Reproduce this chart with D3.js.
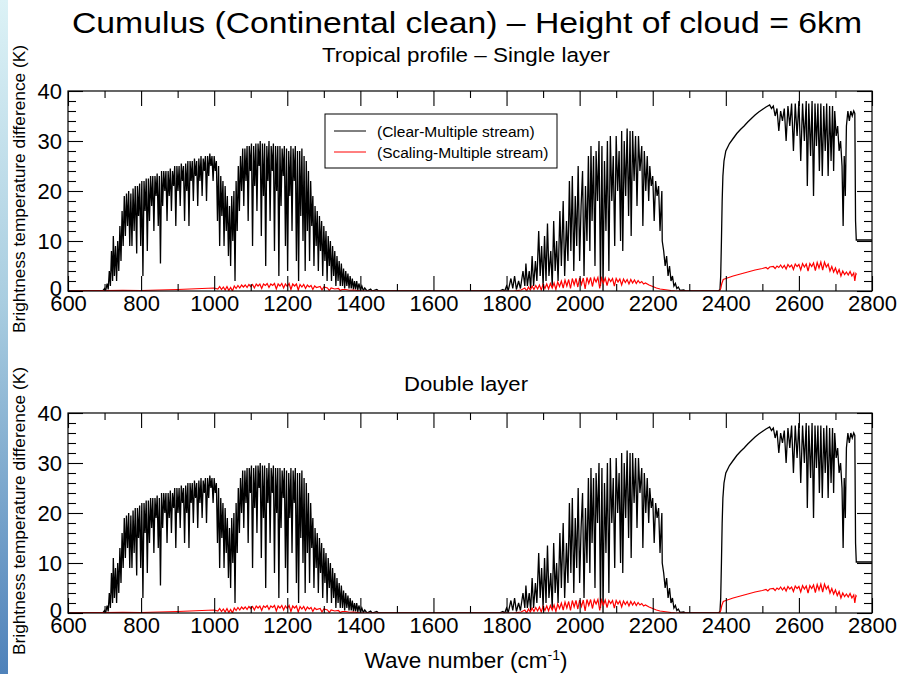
<!DOCTYPE html>
<html>
<head>
<meta charset="utf-8">
<script src="https://cdn.jsdelivr.net/npm/d3@7"></script>
<style>
  html, body { margin: 0; padding: 0; background: #fff; }
  text { font-family: "Liberation Sans", Arial, Helvetica, sans-serif; fill: #000; }
</style>
</head>
<body>
<script>
// Brightness temperature difference (K) against wave number (cm-1)
const clearSingle = [
  [600,0],[695,0],[700,0.5],[703,0],[707,1.5],[710,0.3],[713,4],[716,1],[719,8],[722,2],[724,11],[727,3],[730,9],
  [733,2],[736,10],[739,4],[742,13],[745,6],[748,16],[751,9],[754,19],[757,11],[760,19.5],[763,13],[766,20],
  [769,9],[772,19.5],[775,9],[778,20.5],[781,12],[784,21],[788,7.5],[790,21],[793,15],[796,21.5],[799,9],
  [802,22],[805,3],[808,22],[811,16],[814,22.5],[817,8],[820,22.5],[823,14],[826,23],[829,17],[832,23],
  [835,12],[838,23],[841,19],[844,23.5],[847,13],[850,23],[853,5.5],[856,24],[859,17],[862,24],[865,20],
  [868,24],[871,14],[874,24],[877,19],[880,24.5],[883,16],[886,24],[889,21],[892,25],[895,13],[898,25],
  [901,20],[904,25],[907,17],[910,25.5],[913,22],[916,25],[919,14],[922,25.5],[925,20],[928,26],[931,13],
  [934,26],[937,22],[940,26],[943,18],[946,26.5],[949,23],[952,26],[955,17],[958,26.5],[961,22],[964,27],
  [967,19],[970,26.5],[973,24],[976,27],[979,18],[982,27],[985,23],[988,27.5],[991,25],[994,27],[997,22],
  [1000,27],[1003,24],[1006,26],[1009,14],[1012,25],[1015,9],[1018,23],[1021,15],[1024,22],[1027,9],
  [1030,21],[1033,12],[1036,19],[1039,7],[1042,17],[1045,5],[1048,19],[1051,10],[1054,20],[1057,2],
  [1060,22],[1063,12],[1066,25],[1069,16],[1072,27],[1075,20],[1078,28.5],[1081,17],[1084,28.5],[1087,22],
  [1090,29],[1093,14],[1096,29],[1099,24],[1102,29.5],[1105,9],[1108,29],[1111,21],[1114,29.5],[1117,16],
  [1120,29.5],[1123,25],[1126,30],[1129,11],[1132,29.5],[1135,19],[1138,29.5],[1141,5],[1144,29],[1147,22],
  [1150,30],[1153,14],[1156,29],[1159,24],[1162,29.5],[1165,8],[1168,29],[1171,20],[1174,29],[1177,3],
  [1180,29],[1183,17],[1186,28.5],[1189,23],[1192,29],[1195,9],[1198,28.5],[1201,4],[1204,28],[1207,19],
  [1210,29],[1213,12],[1216,28.5],[1219,22],[1222,29],[1225,6],[1228,28],[1231,2],[1234,28],[1237,15],
  [1240,28.5],[1243,10],[1246,27],[1249,4],[1252,26],[1255,12],[1258,24],[1261,6],[1264,22],[1267,13],
  [1270,19],[1273,5],[1276,17],[1279,9],[1282,16],[1285,4],[1288,15],[1291,8],[1294,14],[1297,3],
  [1300,13],[1303,6],[1306,12],[1309,2],[1312,11],[1315,5],[1318,10],[1321,2],[1324,9],[1327,3],[1330,8],
  [1333,1],[1336,7],[1339,2],[1342,6],[1345,1],[1348,5.5],[1351,1],[1354,4.5],[1357,0.5],[1360,4],[1363,1],
  [1366,3.5],[1369,0.5],[1372,3],[1375,0.5],[1378,2.5],[1381,0.3],[1384,2],[1387,0.3],[1390,2],[1393,0.2],
  [1396,1.5],[1400,0.2],[1404,1],[1408,0.1],[1412,0.6],[1418,0],[1428,0.4],[1432,0],[1445,0.3],[1450,0],
  [1780,0],[1790,0.3],[1795,0],[1800,1],[1805,0.2],[1812,2.5],[1817,0.5],[1822,3],[1827,0.3],[1833,2],
  [1838,0.5],[1845,4],[1850,1],[1853,5.5],[1857,1],[1862,4],[1866,0.5],[1870,7],[1874,1],[1879,6],[1883,2],
  [1888,12],[1892,3],[1896,9],[1900,1],[1904,11],[1908,2],[1912,13.5],[1916,3],[1921,8],[1925,1],[1929,14],
  [1933,4],[1937,10],[1941,2],[1946,16],[1950,5],[1955,18],[1959,3],[1964,14],[1968,6],[1972,22],[1976,8],
  [1980,23],[1984,4],[1988,19],[1992,9],[1996,25],[2000,6],[2004,17],[2008,24],[2012,3],[2016,21],[2020,10],
  [2024,27],[2028,8],[2031,29],[2034,14],[2038,27],[2042,5],[2045,28],[2049,18],[2053,30],[2057,1],[2061,29],
  [2064,0],[2068,26],[2072,12],[2076,30],[2080,4],[2084,31],[2088,18],[2092,27],[2096,9],[2100,31],[2104,20],
  [2108,28],[2112,10],[2115,32],[2118,8],[2122,30],[2126,19],[2130,32.5],[2134,15],[2138,32],[2141,11],
  [2145,32],[2149,22],[2153,31],[2157,17],[2161,31],[2165,24],[2170,29],[2173,13],[2177,28],[2181,20],
  [2185,27],[2189,18],[2192,25],[2196,21],[2200,23],[2204,14],[2208,22],[2212,19],[2216,21],[2220,12],
  [2223,17],[2225,20],[2226,10],[2230,8],[2234,5],[2238,7],[2242,3],[2246,5],[2250,2],[2254,3],[2258,1],
  [2262,1.5],[2266,0.5],[2270,0.8],[2275,0.1],[2285,0.2],[2290,0],
  [2380,0],[2384,0.3],[2386,3],[2388,10],[2390,18],[2392,23],[2395,26],[2400,28],[2410,29.5],[2420,30.5],
  [2430,31.5],[2440,32.3],[2450,33],[2460,33.8],[2470,34.5],[2480,35.2],[2490,35.8],[2500,36.3],[2510,36.8],
  [2520,37.2],[2525,36.5],[2530,37],[2535,35],[2540,36.5],[2545,32],[2550,36],[2555,34],[2560,36.5],
  [2565,30],[2570,37],[2575,33],[2580,37.5],[2585,28],[2590,37.5],[2595,31],[2600,38],[2605,26],[2610,37.5],
  [2615,30],[2620,38],[2623,21],[2627,37.5],[2632,27],[2636,38],[2640,19],[2644,37.5],[2648,29],[2652,37.5],
  [2656,24],[2660,37.5],[2664,23],[2668,37],[2672,28],[2676,37.5],[2680,23],[2684,37],[2688,26],[2692,37],
  [2695,24],[2698,36],[2702,31],[2706,33],[2710,28],[2714,30],[2718,25],[2721,13],[2724,27],[2727,19],
  [2730,33],[2734,36],[2738,34],[2742,36],[2746,35],[2750,36],[2753,35.5],[2755,14],[2757,10.2],[2800,10.2]
];

const scalingSingle = [
  [600,0],[640,0.05],[700,0.1],[750,0.15],[800,0.1],[850,0.2],[900,0.3],[950,0.45],[1000,0.6],[1010,0.4],
  [1015,0.9],[1020,0.3],[1025,0.8],[1030,0.2],[1035,0.9],[1040,0.1],[1045,0.7],[1050,0],[1055,1],[1060,0.5],
  [1065,1.1],[1070,0.6],[1075,1.2],[1080,0.8],[1085,1.2],[1090,0.7],[1095,1.3],[1100,0.9],[1105,1.3],
  [1110,0.6],[1115,1.4],[1120,1],[1125,1.4],[1130,0.5],[1135,1.4],[1140,1.1],[1145,1.5],[1150,0.7],
  [1155,1.4],[1160,1.1],[1165,1.5],[1170,0.4],[1175,1.4],[1180,1],[1185,1.5],[1190,0.6],[1195,1.4],
  [1200,0.9],[1205,1.5],[1210,0.3],[1215,1.4],[1220,1.0],[1225,1.4],[1230,0.2],[1235,1.3],[1240,0.8],
  [1245,1.3],[1250,0.5],[1255,1.2],[1260,0.8],[1265,1.1],[1270,0.3],[1275,1.0],[1280,0.7],[1290,0.9],
  [1295,0.2],[1300,0.8],[1310,0.6],[1315,0.1],[1320,0.6],[1330,0.4],[1340,0.5],[1345,0.1],[1350,0.3],
  [1360,0.3],[1370,0.15],[1380,0.2],[1400,0.05],[1420,0],
  [1820,0],[1840,0.2],[1850,0.6],[1855,0],[1860,0.8],[1865,0.2],[1870,1],[1875,0.3],[1880,1.1],[1885,0.4],
  [1890,1.2],[1895,0.2],[1900,1.3],[1905,0.5],[1910,1.4],[1915,0.4],[1920,1.5],[1925,0.6],[1930,1.6],
  [1935,0.3],[1940,1.8],[1945,0.9],[1950,2],[1955,0.6],[1960,2.2],[1965,1],[1970,2.3],[1975,0.5],[1980,2.5],
  [1985,1.2],[1990,2.5],[1995,0.8],[2000,2.6],[2005,1.3],[2010,2.6],[2015,0.4],[2020,2.7],[2025,1.5],
  [2030,2.7],[2035,0.9],[2040,2.6],[2045,1.8],[2050,2.7],[2055,0.5],[2060,2.6],[2065,1.6],[2070,2.6],
  [2075,1.1],[2080,2.5],[2085,1.9],[2090,2.5],[2095,1.0],[2100,2.5],[2105,1.8],[2110,2.4],[2115,1.2],
  [2120,2.4],[2125,1.7],[2130,2.3],[2135,1.4],[2140,2.3],[2145,1.6],[2150,2.2],[2155,1.5],[2160,2.1],
  [2165,1.6],[2170,1.9],[2175,1.4],[2180,1.6],[2190,1.2],[2200,0.9],[2210,0.6],[2220,0.4],[2230,0.3],
  [2240,0.2],[2250,0.1],[2260,0.05],[2280,0],
  [2383,0],[2386,0.5],[2389,1.5],[2393,2.3],[2400,2.5],[2420,3],[2440,3.4],[2460,3.8],[2480,4.2],[2500,4.5],
  [2510,4.7],[2515,4.4],[2520,4.8],[2530,4.9],[2535,4.5],[2540,5],[2545,4.7],[2550,5.2],[2555,4.6],
  [2560,5.1],[2565,4.4],[2570,5.3],[2575,4.8],[2580,5.2],[2585,4.3],[2590,5.4],[2595,4.9],[2600,5.3],
  [2605,4.2],[2610,5.5],[2615,4.8],[2620,5.4],[2625,4.0],[2630,5.5],[2635,4.9],[2640,5.6],[2645,4.1],
  [2650,5.7],[2655,4.6],[2660,5.8],[2665,4.2],[2670,5.8],[2675,4.8],[2680,5.4],[2685,4.0],[2690,4.9],
  [2695,3.8],[2700,4.6],[2705,3.5],[2710,4.3],[2715,3.0],[2720,4.0],[2725,3.3],[2730,3.8],[2735,3.2],
  [2740,3.9],[2745,3.0],[2750,3.6],[2753,2.0],[2756,3.5],[2758,3.3]
];

// the double layer panel reads the same as the single layer one at this resolution
const clearDouble = clearSingle;
const scalingDouble = scalingSingle;

const xMajor = [600, 800, 1000, 1200, 1400, 1600, 1800, 2000, 2200, 2400, 2600, 2800];
const xMinor = [700, 900, 1100, 1300, 1500, 1700, 1900, 2100, 2300, 2500, 2700];
const yMajor = [0, 10, 20, 30, 40];
const yMinor = [2, 4, 6, 8, 12, 14, 16, 18, 22, 24, 26, 28, 32, 34, 36, 38];
const legendLabels = ["(Clear-Multiple stream)", "(Scaling-Multiple stream)"];
const seriesColors = ["#000000", "#ff0000"];

const width = 898;
const height = 674;
const plotLeft = 68;
const plotRight = 872;
const plotH = 200;

const svg = d3.create("svg")
  .attr("width", width)
  .attr("height", height)
  .attr("viewBox", [0, 0, width, height]);

// slide edge strip
const grad = svg.append("defs").append("linearGradient")
  .attr("id", "edge").attr("x1", 0).attr("y1", 0).attr("x2", 0).attr("y2", 1);
grad.append("stop").attr("offset", "0%").attr("stop-color", "#dcf2f6");
grad.append("stop").attr("offset", "45%").attr("stop-color", "#a9cde0");
grad.append("stop").attr("offset", "100%").attr("stop-color", "#4f82ba");
svg.append("rect").attr("x", 0).attr("y", 0).attr("width", 8).attr("height", height)
  .attr("fill", "url(#edge)");

svg.append("text")
  .attr("x", 467).attr("y", 33)
  .attr("text-anchor", "middle")
  .attr("font-size", 29)
  .attr("textLength", 790).attr("lengthAdjust", "spacingAndGlyphs")
  .text("Cumulus (Continental clean) \u2013 Height of cloud = 6km");

const x = d3.scaleLinear([600, 2800], [plotLeft, plotRight]);

function panel(top, clear, scaling, subtitle, subY, subLen, legend) {
  const y = d3.scaleLinear([0, 40], [top + plotH, top]);
  const g = svg.append("g");

  svg.append("text")
    .attr("x", 466).attr("y", subY)
    .attr("text-anchor", "middle")
    .attr("font-size", 20.5)
    .attr("textLength", subLen).attr("lengthAdjust", "spacingAndGlyphs")
    .text(subtitle);

  const clipId = "clip" + top;
  svg.select("defs").append("clipPath").attr("id", clipId)
    .append("rect").attr("x", plotLeft).attr("y", top - 1)
    .attr("width", plotRight - plotLeft).attr("height", plotH + 1);

  const line = d3.line().x(d => x(d[0])).y(d => y(d[1]));

  g.append("path")
    .datum(clear)
    .attr("clip-path", `url(#${clipId})`)
    .attr("fill", "none")
    .attr("stroke", seriesColors[0])
    .attr("stroke-width", 1.3)
    .attr("d", line);

  g.append("path")
    .datum(scaling)
    .attr("clip-path", `url(#${clipId})`)
    .attr("fill", "none")
    .attr("stroke", seriesColors[1])
    .attr("stroke-width", 1.2)
    .attr("d", line);

  // frame
  g.append("rect")
    .attr("x", plotLeft).attr("y", top)
    .attr("width", plotRight - plotLeft).attr("height", plotH)
    .attr("fill", "none").attr("stroke", "#000").attr("stroke-width", 1.2);

  const bottom = top + plotH;
  const styleAxis = sel => {
    sel.select(".domain").remove();
    sel.selectAll("line").attr("stroke", "#000").attr("stroke-width", 1.1);
  };

  g.append("g").attr("transform", `translate(0,${bottom})`)
    .call(d3.axisBottom(x).tickValues(xMajor).tickSize(-15).tickSizeOuter(0).tickPadding(4.5)
      .tickFormat(d3.format("d")))
    .call(styleAxis)
    .call(s => s.selectAll("text").attr("font-size", 22).attr("font-family", null));
  g.append("g").attr("transform", `translate(0,${bottom})`)
    .call(d3.axisBottom(x).tickValues(xMinor).tickSize(-7).tickSizeOuter(0).tickFormat(""))
    .call(styleAxis);
  g.append("g").attr("transform", `translate(0,${top})`)
    .call(d3.axisTop(x).tickValues(xMajor).tickSize(-15).tickSizeOuter(0).tickFormat(""))
    .call(styleAxis);
  g.append("g").attr("transform", `translate(0,${top})`)
    .call(d3.axisTop(x).tickValues(xMinor).tickSize(-7).tickSizeOuter(0).tickFormat(""))
    .call(styleAxis);

  g.append("g").attr("transform", `translate(${plotLeft},0)`)
    .call(d3.axisLeft(y).tickValues(yMajor).tickSize(-15).tickSizeOuter(0).tickPadding(6)
      .tickFormat(d3.format("d")))
    .call(styleAxis)
    .call(s => s.selectAll("text").attr("font-size", 22).attr("font-family", null)
      .attr("dy", d => d === 0 ? "0.22em" : "0.32em"));
  g.append("g").attr("transform", `translate(${plotLeft},0)`)
    .call(d3.axisLeft(y).tickValues(yMinor).tickSize(-8).tickSizeOuter(0).tickFormat(""))
    .call(styleAxis);
  g.append("g").attr("transform", `translate(${plotRight},0)`)
    .call(d3.axisRight(y).tickValues(yMajor).tickSize(-15).tickSizeOuter(0).tickFormat(""))
    .call(styleAxis);
  g.append("g").attr("transform", `translate(${plotRight},0)`)
    .call(d3.axisRight(y).tickValues(yMinor).tickSize(-8).tickSizeOuter(0).tickFormat(""))
    .call(styleAxis);

  g.selectAll(".tick text").attr("fill", "#000");

  // y axis title
  svg.append("text")
    .attr("transform", `translate(25,${top + 98}) rotate(-90)`)
    .attr("text-anchor", "middle")
    .attr("font-size", 17)
    .attr("textLength", 288).attr("lengthAdjust", "spacingAndGlyphs")
    .text("Brightness temperature difference (K)");

  if (legend) {
    const lg = g.append("g");
    lg.append("rect")
      .attr("x", 325).attr("y", 114).attr("width", 232).attr("height", 54)
      .attr("fill", "#fff").attr("stroke", "#000").attr("stroke-width", 1);
    const rows = [131, 152];
    legendLabels.forEach((label, i) => {
      lg.append("line")
        .attr("x1", 334).attr("x2", 366).attr("y1", rows[i]).attr("y2", rows[i])
        .attr("stroke", seriesColors[i]).attr("stroke-width", 1);
      lg.append("text")
        .attr("x", 377).attr("y", rows[i] + 5.5)
        .attr("font-size", 15.5)
        .text(label);
    });
  }
}

panel(91, clearSingle, scalingSingle, "Tropical profile \u2013 Single layer", 62, 288, true);
panel(413, clearDouble, scalingDouble, "Double layer", 391, 124, false);

const xt = svg.append("text")
  .attr("x", 466).attr("y", 668)
  .attr("text-anchor", "middle")
  .attr("font-size", 22.5);
xt.append("tspan").text("Wave number (cm");
xt.append("tspan").attr("font-size", 14).attr("dy", -8).text("-1");
xt.append("tspan").attr("dy", 8).text(")");

document.body.appendChild(svg.node());
</script>
</body>
</html>
